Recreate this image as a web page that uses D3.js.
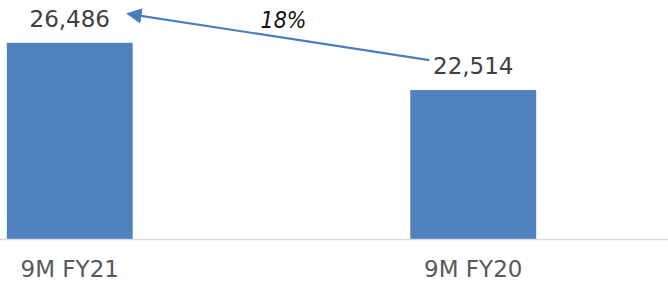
<!DOCTYPE html>
<html>
<head>
<meta charset="utf-8">
<script src="https://cdn.jsdelivr.net/npm/d3@7"></script>
<style>
  body { margin: 0; background: #fff; }
  text { font-family: "DejaVu Sans", sans-serif; }
</style>
</head>
<body>
<svg id="chart" width="668" height="281"></svg>
<script>
// chart data
var categories = ['9M FY21', '9M FY20'];
var values = [26486, 22514];
var changeLabel = '18%';
var yDomain = [10000, 30000];

var svg = d3.select('#chart');
var baseY = 239;

var x = d3.scaleBand()
    .domain(categories)
    .range([-132, 675])
    .paddingInner(0.688)
    .paddingOuter(0.344);

var y = d3.scaleLinear()
    .domain(yDomain)
    .range([baseY, 1]);

var fmt = d3.format(',');

// bars
svg.selectAll('rect.bar')
    .data(values)
    .enter().append('rect')
    .attr('class', 'bar')
    .attr('x', function(d, i) { return x(categories[i]); })
    .attr('y', function(d) { return y(d); })
    .attr('width', x.bandwidth())
    .attr('height', function(d) { return baseY - y(d); })
    .attr('fill', '#4f81bd');

// baseline
svg.append('line')
    .attr('x1', 0).attr('x2', 668)
    .attr('y1', baseY + 0.5).attr('y2', baseY + 0.5)
    .attr('stroke', '#d9d9d9')
    .attr('stroke-width', 1.5);

// value labels
svg.selectAll('text.val')
    .data(values)
    .enter().append('text')
    .attr('class', 'val')
    .attr('x', function(d, i) { return x(categories[i]) + x.bandwidth() / 2; })
    .attr('y', function(d) { return y(d) - 16; })
    .attr('text-anchor', 'middle')
    .attr('fill', '#404040')
    .style('font-size', '23px')
    .text(function(d) { return fmt(d); });

// category labels
svg.selectAll('text.cat')
    .data(categories)
    .enter().append('text')
    .attr('class', 'cat')
    .attr('x', function(d) { return x(d) + x.bandwidth() / 2; })
    .attr('y', 277)
    .attr('text-anchor', 'middle')
    .attr('fill', '#595959')
    .style('font-size', '23px')
    .text(function(d) { return d; });

// change arrow between the two labels
svg.append('defs').append('marker')
    .attr('id', 'head')
    .attr('viewBox', '0 0 10 10')
    .attr('refX', 9).attr('refY', 5)
    .attr('markerWidth', 7).attr('markerHeight', 7)
    .attr('orient', 'auto')
  .append('path')
    .attr('d', 'M0,0 L10,5 L0,10 z')
    .attr('fill', '#4a7ebb');

var tail = [x(categories[1]) + x.bandwidth() / 2 - 44, y(values[1]) - 30];
var tip = [x(categories[0]) + x.bandwidth() / 2 + 58, y(values[0]) - 29];

svg.append('line')
    .attr('x1', tail[0]).attr('y1', tail[1])
    .attr('x2', tip[0]).attr('y2', tip[1])
    .attr('stroke', '#4a7ebb')
    .attr('stroke-width', 2.2)
    .attr('marker-end', 'url(#head)');

svg.append('text')
    .attr('x', (tail[0] + tip[0]) / 2 + 5)
    .attr('y', 28)
    .attr('text-anchor', 'middle')
    .attr('fill', '#111')
    .style('font-family', '"DejaVu Sans Condensed", "DejaVu Sans", sans-serif')
    .style('font-size', '23px')
    .style('font-style', 'italic')
    .text(changeLabel);
</script>
</body>
</html>
